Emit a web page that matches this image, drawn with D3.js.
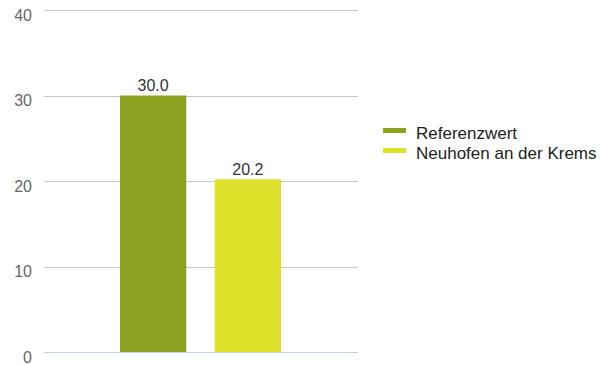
<!DOCTYPE html>
<html>
<head>
<meta charset="utf-8">
<script src="https://cdn.jsdelivr.net/npm/d3@7"></script>
<style>
  body { margin: 0; background: #fff; }
  text { font-family: "Liberation Sans", Arial, sans-serif; }
</style>
</head>
<body>
<script>
// data
let seriesNames = ["Referenzwert", "Neuhofen an der Krems"];
let seriesValues = [30.0, 20.2];
let seriesColors = ["#8da221", "#dde12a"];
let yTicks = [0, 10, 20, 30, 40];

let width = 615, height = 365;
let margin = {top: 10, left: 44, plotRight: 358, bottom: 352};

let svg = d3.select("body").append("svg")
    .attr("width", width)
    .attr("height", height);

let yScale = d3.scaleLinear().domain([0, 40]).range([margin.bottom, margin.top]);

// one group, bars side by side in the middle of the plot
let xScale = d3.scaleBand()
    .domain(seriesNames)
    .range([120, 281])
    .paddingInner(0.3);

// grid lines
svg.append("g")
  .selectAll("line")
  .data(yTicks.filter(d => d > 0))
  .enter().append("line")
    .attr("x1", margin.left)
    .attr("x2", margin.plotRight)
    .attr("y1", d => Math.round(yScale(d)) + 0.5)
    .attr("y2", d => Math.round(yScale(d)) + 0.5)
    .attr("stroke", "#c8c8c8")
    .attr("stroke-width", 1);

// y labels (sit a little below their grid line)
svg.append("g")
  .selectAll("text")
  .data(yTicks)
  .enter().append("text")
    .attr("x", 32)
    .attr("y", d => yScale(d) + 10.5)
    .attr("text-anchor", "end")
    .attr("font-size", 16)
    .attr("fill", "#666")
    .text(d => d);

// bars
svg.append("g")
  .selectAll("rect")
  .data(seriesValues)
  .enter().append("rect")
    .attr("x", (d, i) => xScale(seriesNames[i]))
    .attr("width", xScale.bandwidth())
    .attr("y", d => yScale(d))
    .attr("height", d => yScale(0) - yScale(d))
    .attr("fill", (d, i) => seriesColors[i]);

// value labels
svg.append("g")
  .selectAll("text")
  .data(seriesValues)
  .enter().append("text")
    .attr("x", (d, i) => xScale(seriesNames[i]) + xScale.bandwidth() / 2)
    .attr("y", d => yScale(d) - 4.5)
    .attr("text-anchor", "middle")
    .attr("font-size", 16)
    .attr("fill", "#333")
    .text(d => d.toFixed(1));

// baseline
svg.append("line")
    .attr("x1", margin.left)
    .attr("x2", margin.plotRight)
    .attr("y1", Math.round(yScale(0)) + 0.5)
    .attr("y2", Math.round(yScale(0)) + 0.5)
    .attr("stroke", "#c0d0e0")
    .attr("stroke-width", 1);

// legend
let legend = svg.append("g")
    .attr("transform", "translate(383,128)");

let item = legend.selectAll("g")
    .data(seriesNames)
  .enter().append("g")
    .attr("transform", (d, i) => "translate(0," + i * 20 + ")");

item.append("rect")
    .attr("width", 23)
    .attr("height", 5)
    .attr("fill", (d, i) => seriesColors[i]);

item.append("text")
    .attr("x", 33)
    .attr("y", 11)
    .attr("font-size", 17)
    .attr("fill", "#222")
    .text(d => d);
</script>
</body>
</html>
